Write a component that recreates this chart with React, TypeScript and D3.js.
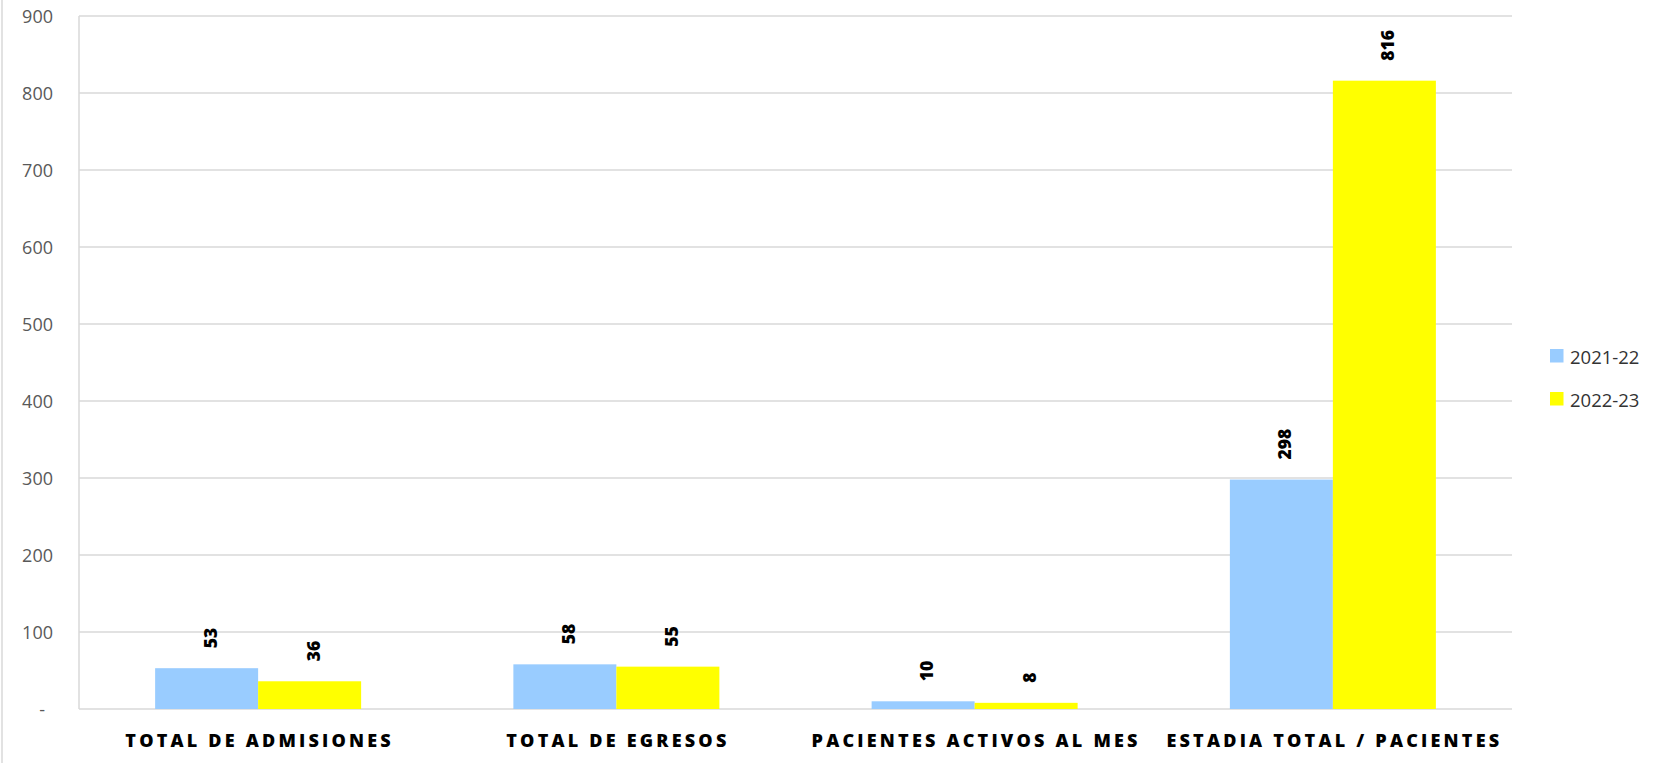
import React from "react";
import * as d3 from "d3";

const categories = [
  "TOTAL DE ADMISIONES",
  "TOTAL DE EGRESOS",
  "PACIENTES ACTIVOS AL MES",
  "ESTADIA TOTAL / PACIENTES",
];
const seriesNames = ["2021-22", "2022-23"];
const values2021_22 = [53, 58, 10, 298];
const values2022_23 = [36, 55, 8, 816];
const yTicks = [0, 100, 200, 300, 400, 500, 600, 700, 800, 900];
const yTickLabels = ["-", "100", "200", "300", "400", "500", "600", "700", "800", "900"];

const seriesColors = ["#99CCFF", "#FFFF00"];
const seriesValues = [values2021_22, values2022_23];

const W = 1669;
const H = 763;
const M = { left: 79, right: 1512, top: 16, bottom: 709 };
const FONT = "'Open Sans', 'Noto Sans', sans-serif";

export default function App() {
  const x0 = d3.scaleBand<string>().domain(categories).range([M.left, M.right]).paddingInner(0).paddingOuter(0);
  const x1 = d3
    .scaleBand<string>()
    .domain(seriesNames)
    .range([0, x0.bandwidth()])
    .paddingInner(0)
    .paddingOuter(0.739);
  const y = d3.scaleLinear().domain([0, 900]).range([M.bottom, M.top]);

  return (
    <svg
      width={W}
      height={H}
      style={{ position: "absolute", left: 0, top: 0, background: "#fff", fontFamily: FONT }}
    >
      <rect x={0} y={0} width={W} height={H} fill="#fff" />
      <line x1={2} x2={2} y1={0} y2={H} stroke="#d9d9d9" strokeWidth={1.5} />
      {/* gridlines */}
      {yTicks.map((t) => (
        <line
          key={"g" + t}
          x1={M.left}
          x2={M.right}
          y1={y(t)}
          y2={y(t)}
          stroke="#d9d9d9"
          strokeWidth={1.5}
        />
      ))}
      <line x1={M.left} x2={M.left} y1={M.top} y2={M.bottom} stroke="#d9d9d9" strokeWidth={1.5} />
      {/* y labels */}
      {yTicks.map((t, i) => (
        <text
          key={"yl" + t}
          x={t === 0 ? 45 : 53}
          y={y(t) + 6.5}
          textAnchor="end"
          fontSize={18}
          fill="#595959"
        >
          {yTickLabels[i]}
        </text>
      ))}
      {/* bars */}
      {categories.map((c, ci) =>
        seriesNames.map((s, si) => {
          const v = seriesValues[si][ci];
          const bx = (x0(c) ?? 0) + (x1(s) ?? 0);
          const bw = x1.bandwidth();
          return (
            <rect
              key={c + s}
              x={bx}
              y={y(v)}
              width={bw}
              height={y(0) - y(v)}
              fill={seriesColors[si]}
            />
          );
        })
      )}
      {/* data labels */}
      {categories.map((c, ci) =>
        seriesNames.map((s, si) => {
          const v = seriesValues[si][ci];
          const cx = (x0(c) ?? 0) + (x1(s) ?? 0) + x1.bandwidth() / 2;
          return (
            <text
              key={"l" + c + s}
              transform={`translate(${cx + 10},${y(v) - 20}) rotate(-90)`}
              textAnchor="start"
              fontSize={17.5}
              fontWeight={800}
              fill="#000"
            >
              {v}
            </text>
          );
        })
      )}
      {/* category labels */}
      {categories.map((c) => (
        <text
          key={"c" + c}
          x={(x0(c) ?? 0) + x0.bandwidth() / 2 + 1.5}
          y={747}
          textAnchor="middle"
          fontSize={18}
          fontWeight={800}
          letterSpacing={3.2}
          fill="#000"
        >
          {c}
        </text>
      ))}
      {/* legend */}
      {seriesNames.map((s, si) => (
        <g key={"lg" + s} transform={`translate(1550,${349 + si * 43})`}>
          <rect x={0} y={0} width={13.5} height={13.5} fill={seriesColors[si]} />
          <text x={20} y={14.5} fontSize={18.5} fill="#333333">
            {s}
          </text>
        </g>
      ))}
    </svg>
  );
}
